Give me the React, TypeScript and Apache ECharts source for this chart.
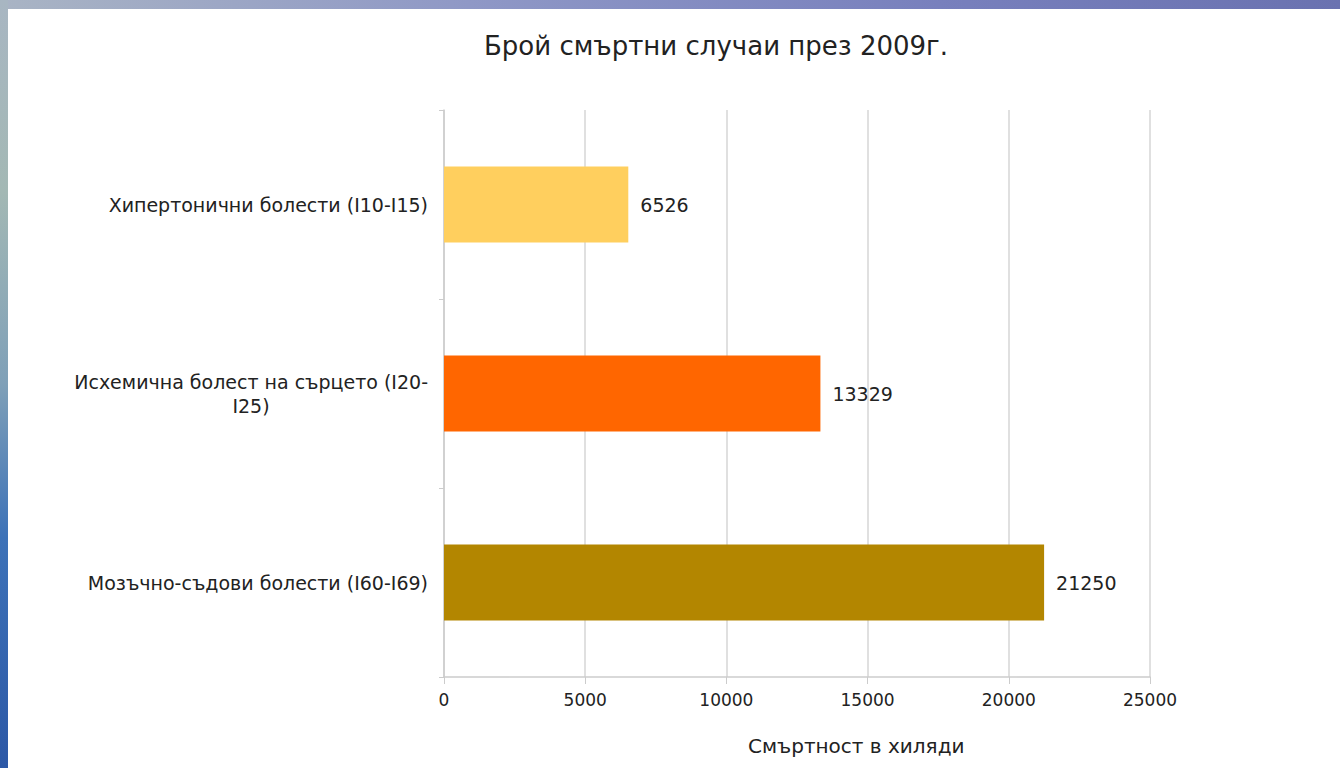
import React, { useEffect, useRef } from "react";
import * as echarts from "echarts";

const titleText = "Брой смъртни случаи през 2009г.";
const axisName = "Смъртност в хиляди";
const categories = [
  "Хипертонични болести (I10-I15)",
  "Исхемична болест на сърцето (I20-I25)",
  "Мозъчно-съдови болести (I60-I69)",
];
const values = [6526, 13329, 21250];
const barColors = ["#FFCF5E", "#FF6600", "#B38600"];
const xTicks = [0, 5000, 10000, 15000, 20000, 25000];

const FONT = "DejaVu Sans";
const LABEL_SIZE = 19;

function measure(text: string, size: number): number {
  const c = document.createElement("canvas").getContext("2d");
  if (!c) return text.length * size * 0.6;
  c.font = `${size}px "${FONT}"`;
  return c.measureText(text).width;
}

export default function App() {
  const ref = useRef<HTMLDivElement>(null);
  useEffect(() => {
    if (!ref.current) return;
    const chart = echarts.init(ref.current, null, { renderer: "svg" });
    const formatter = (v: string) => {
      if (v.length > 33) {
        const i = v.lastIndexOf("-");
        const l1 = v.slice(0, i + 1);
        const l2 = v.slice(i + 1);
        return `{a|${l1}}\n{b|${l2}}`;
      }
      return `{a|${v}}`;
    };
    const longLine = categories
      .filter((c) => c.length > 33)
      .map((c) => c.slice(0, c.lastIndexOf("-") + 1))[0] || "";
    const w = Math.ceil(measure(longLine, LABEL_SIZE));
    chart.setOption({
      animation: false,
      backgroundColor: "#ffffff",
      title: {
        text: titleText,
        left: 703,
        textAlign: "center",
        top: 19,
        textStyle: { fontFamily: FONT, fontSize: 26, fontWeight: "normal", color: "#222" },
      },
      graphic: [
        {
          type: "text",
          left: 740,
          top: 727,
          style: { text: axisName, fontFamily: FONT, fontSize: 20, fill: "#222" },
        },
      ],
      grid: { left: 436, right: 190, top: 101, bottom: 91, containLabel: false },
      xAxis: {
        type: "value",
        min: xTicks[0],
        max: xTicks[xTicks.length - 1],
        interval: xTicks[1] - xTicks[0],
        axisLine: { show: true, lineStyle: { color: "#cccccc", width: 1.5 } },
        axisTick: { show: true, length: 7, lineStyle: { color: "#cccccc" } },
        splitLine: { show: true, lineStyle: { color: "#d6d6d6", width: 1.5 } },
        axisLabel: {
          margin: 14,
          fontFamily: FONT,
          fontSize: 17,
          color: "#222",
          formatter: (v: number) => String(v),
        },
      },
      yAxis: {
        type: "category",
        inverse: true,
        data: categories,
        axisLine: { show: true, lineStyle: { color: "#cccccc", width: 1.5 } },
        axisTick: { show: true, length: 5, lineStyle: { color: "#cccccc" } },
        splitLine: { show: false },
        axisLabel: {
          margin: 16,
          formatter,
          fontFamily: FONT,
          fontSize: LABEL_SIZE,
          color: "#222",
          lineHeight: 24,
          rich: {
            a: { fontFamily: FONT, fontSize: LABEL_SIZE, color: "#222", lineHeight: 24 },
            b: { fontFamily: FONT, fontSize: LABEL_SIZE, color: "#222", lineHeight: 24, width: w, align: "center" },
          },
        },
      },
      series: [
        {
          type: "bar",
          barWidth: 76,
          data: values.map((v, i) => ({ value: v, itemStyle: { color: barColors[i] } })),
          label: {
            show: true,
            position: "right",
            distance: 12,
            fontFamily: FONT,
            fontSize: 19,
            color: "#222",
          },
        },
      ],
    });
    return () => chart.dispose();
  }, []);

  return (
    <div style={{ position: "fixed", left: 0, top: 0, width: 1340, height: 768, background: "#fff", overflow: "hidden" }}>
      <div
        style={{
          position: "absolute",
          left: 0,
          top: 0,
          width: 1340,
          height: 9,
          background: "linear-gradient(to right, #a9b4c4 0%, #8f98c6 35%, #7880bd 70%, #6a72b0 100%)",
        }}
      />
      <div
        style={{
          position: "absolute",
          left: 0,
          top: 0,
          width: 8,
          height: 768,
          background:
            "linear-gradient(to bottom, #a8b6c2 0%, #a3b8b4 25%, #7fa0b8 50%, #3d72b8 70%, #2c58a6 100%)",
        }}
      />
      <div ref={ref} style={{ position: "absolute", left: 8, top: 9, width: 1332, height: 759 }} />
    </div>
  );
}
